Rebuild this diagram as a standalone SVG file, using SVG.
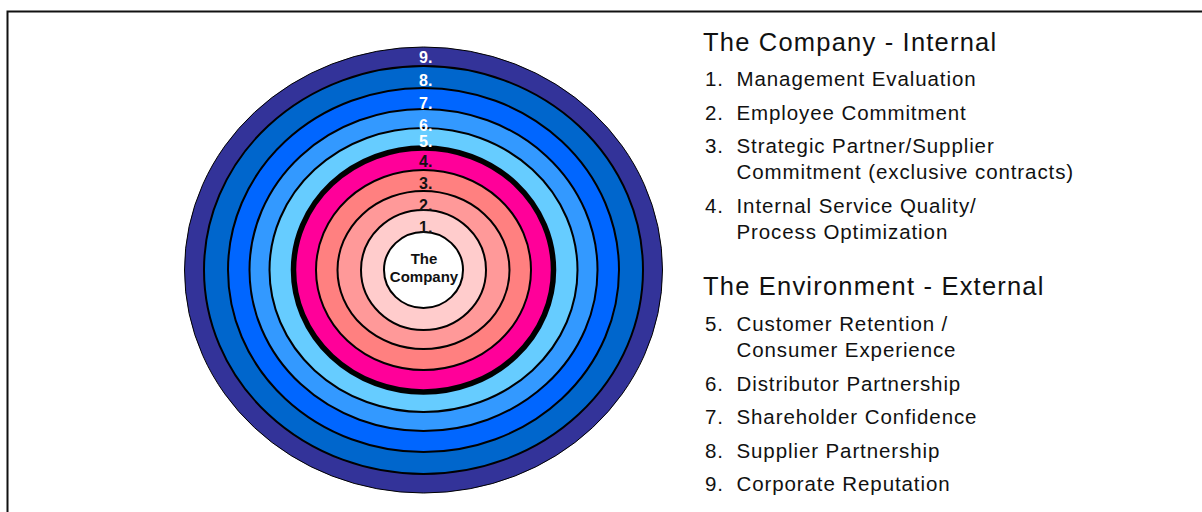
<svg xmlns="http://www.w3.org/2000/svg" width="1202" height="512" viewBox="0 0 1202 512">
<style>
.ring{stroke:#000;stroke-width:2}
.lbl{font-family:"Liberation Sans",Arial,sans-serif;font-weight:bold;font-size:16px}
.lw{fill:#fff}
.lk{fill:#111}
.ctr{font-family:"Liberation Sans",Arial,sans-serif;font-weight:bold;font-size:15px;fill:#111}
.hd{font-family:"Liberation Sans",Arial,sans-serif;font-size:25.5px;letter-spacing:1.2px;fill:#111}
.it{font-family:"Liberation Sans",Arial,sans-serif;font-size:20.5px;letter-spacing:0.9px;fill:#111}
</style>
<rect x="0" y="0" width="1202" height="512" fill="#fff"/>
<path d="M7.5,512 V11.5 H1202" fill="none" stroke="#111" stroke-width="2"/>
<g id="rings">
<g id="ring-9"><ellipse class="ring" cx="423.5" cy="270" rx="239" ry="223" fill="#333399" style="stroke-width:1"/></g>
<g id="ring-8"><ellipse class="ring" cx="423.5" cy="270" rx="219.5" ry="204" fill="#0066CC"/></g>
<g id="ring-7"><ellipse class="ring" cx="423.5" cy="270" rx="195.5" ry="182" fill="#0066FF"/></g>
<g id="ring-6"><ellipse class="ring" cx="423.5" cy="270" rx="174" ry="161" fill="#3399FF"/></g>
<g id="ring-5"><ellipse class="ring" cx="423.5" cy="270" rx="154" ry="142" fill="#66CCFF"/></g>
<g id="ring-4"><ellipse class="ring" cx="423.5" cy="270" rx="130" ry="122" fill="#FF0099" style="stroke-width:5.5"/></g>
<g id="ring-3"><ellipse class="ring" cx="423.5" cy="270" rx="107.5" ry="100" fill="#FF8080"/></g>
<g id="ring-2"><ellipse class="ring" cx="423.5" cy="270" rx="86" ry="79" fill="#FF9999"/></g>
<g id="ring-1"><ellipse class="ring" cx="423.5" cy="270" rx="62.5" ry="60" fill="#FFCCCC"/></g>
<g id="company"><ellipse class="ring" cx="423.5" cy="270" rx="39.5" ry="38" fill="#fff"/>
<text class="ctr" x="424" y="264" text-anchor="middle">The</text>
<text class="ctr" x="424" y="282" text-anchor="middle">Company</text></g>
</g>
<g id="ring-labels">
<text class="lbl lw" x="419" y="62.5">9.</text>
<text class="lbl lw" x="419" y="85.5">8.</text>
<text class="lbl lw" x="419" y="108.5">7.</text>
<text class="lbl lw" x="419" y="130.5">6.</text>
<text class="lbl lw" x="419" y="147">5.</text>
<text class="lbl lk" x="419" y="167">4.</text>
<text class="lbl lk" x="419" y="189">3.</text>
<text class="lbl lk" x="419" y="210.5">2.</text>
<text class="lbl lk" x="419" y="232.5">1.</text>
</g>
<g id="legend-internal">
<text class="hd" x="703" y="51">The Company - Internal</text>
<text class="it" x="705" y="86">1.</text><text class="it" x="736.5" y="86">Management Evaluation</text>
<text class="it" x="705" y="119.5">2.</text><text class="it" x="736.5" y="119.5">Employee Commitment</text>
<text class="it" x="705" y="153">3.</text><text class="it" x="736.5" y="153">Strategic Partner/Supplier</text>
<text class="it" x="736.5" y="179">Commitment (exclusive contracts)</text>
<text class="it" x="705" y="212.5">4.</text><text class="it" x="736.5" y="212.5">Internal Service Quality/</text>
<text class="it" x="736.5" y="238.5">Process Optimization</text>
</g>
<g id="legend-external">
<text class="hd" x="703" y="295">The Environment - External</text>
<text class="it" x="705" y="331">5.</text><text class="it" x="736.5" y="331">Customer Retention /</text>
<text class="it" x="736.5" y="357">Consumer Experience</text>
<text class="it" x="705" y="390.5">6.</text><text class="it" x="736.5" y="390.5">Distributor Partnership</text>
<text class="it" x="705" y="424">7.</text><text class="it" x="736.5" y="424">Shareholder Confidence</text>
<text class="it" x="705" y="457.5">8.</text><text class="it" x="736.5" y="457.5">Supplier Partnership</text>
<text class="it" x="705" y="491">9.</text><text class="it" x="736.5" y="491">Corporate Reputation</text>
</g>
</svg>
